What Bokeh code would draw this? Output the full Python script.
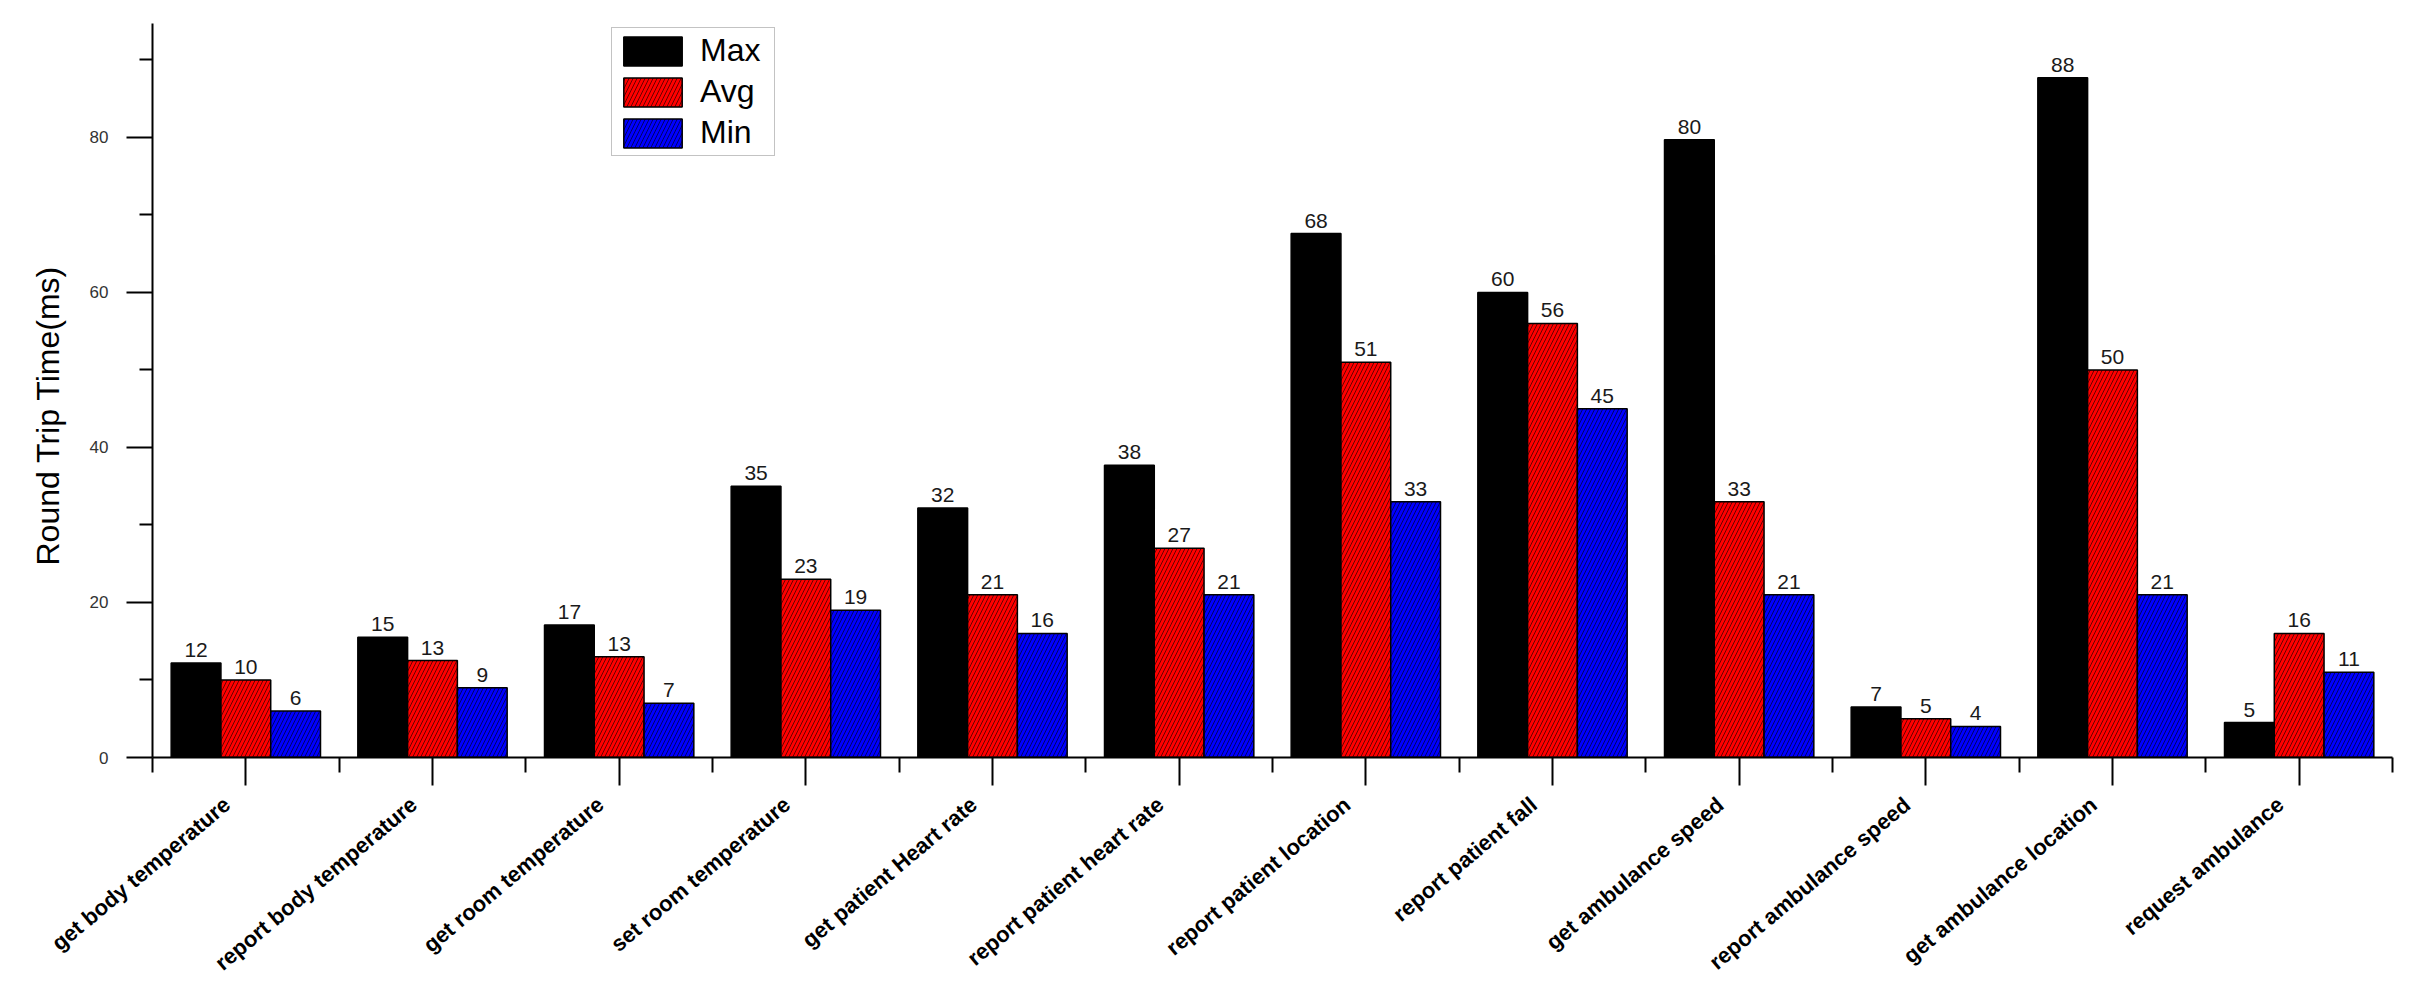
import numpy as np
from bokeh.plotting import figure
from bokeh.models import (ColumnDataSource, FixedTicker, Range1d, Legend, LegendItem,
                          Title, LinearAxis)
from bokeh.transform import dodge
from bokeh.core.properties import value
from bokeh.embed import file_html
from bokeh.resources import INLINE

categories = ["get body temperature", "report body temperature", "get room temperature",
              "set room temperature", "get patient Heart rate", "report patient heart rate",
              "report patient location", "report patient fall", "get ambulance speed",
              "report ambulance speed", "get ambulance location", "request ambulance"]
max_vals = [12.2, 15.5, 17.1, 35.0, 32.2, 37.7, 67.6, 60.0, 79.7, 6.5, 87.7, 4.5]
avg_vals = [10.0, 12.5, 13.0, 23.0, 21.0, 27.0, 51.0, 56.0, 33.0, 5.0, 50.0, 16.0]
min_vals = [6.0, 9.0, 7.0, 19.0, 16.0, 21.0, 33.0, 45.0, 21.0, 4.0, 21.0, 11.0]
max_labels = ["12", "15", "17", "35", "32", "38", "68", "60", "80", "7", "88", "5"]
avg_labels = ["10", "13", "13", "23", "21", "27", "51", "56", "33", "5", "50", "16"]
min_labels = ["6", "9", "7", "19", "16", "21", "33", "45", "21", "4", "21", "11"]
y_ticks = [0, 20, 40, 60, 80]
y_minor = [10, 30, 50, 70, 90]

idx = list(range(len(categories)))
src = ColumnDataSource(dict(x=idx, mx=max_vals, av=avg_vals, mn=min_vals,
                            mxl=max_labels, avl=avg_labels, mnl=min_labels))

FONT = "Liberation Sans"
LAB_SHIFT = 0.1
p = figure(frame_width=2240, frame_height=734, output_backend="svg", toolbar_location=None,
           x_range=Range1d(-0.5, 11.5), y_range=Range1d(0, 94.7),
           min_border_left=152, min_border_right=24, min_border_top=23, min_border_bottom=216)
p.extra_x_ranges = {"labels": Range1d(-0.5 + LAB_SHIFT, 11.5 + LAB_SHIFT)}
p.outline_line_color = None
p.xgrid.visible = False
p.ygrid.visible = False
p.background_fill_color = "white"

bw = 0.8 / 3
r_max = p.vbar(x=dodge("x", -bw, range=p.x_range), top="mx", width=bw, source=src,
               fill_color="black", line_color="black", line_width=1.5)
r_avg = p.vbar(x=dodge("x", 0, range=p.x_range), top="av", width=bw, source=src,
               fill_color="#ff0000", line_color="black", line_width=1.5,
               hatch_pattern="/", hatch_color="black", hatch_scale=8, hatch_weight=0.6)
r_min = p.vbar(x=dodge("x", bw, range=p.x_range), top="mn", width=bw, source=src,
               fill_color="#0000ff", line_color="black", line_width=1.5,
               hatch_pattern="/", hatch_color="black", hatch_scale=8, hatch_weight=0.6)

for off, ycol, tcol in [(-bw, "mx", "mxl"), (0, "av", "avl"), (bw, "mn", "mnl")]:
    p.text(x=dodge("x", off, range=p.x_range), y=ycol, text=tcol, source=src,
           text_align="center", text_baseline="bottom", y_offset=-6,
           text_font=value(FONT), text_font_size="21px", text_color="#1a1a1a")

# y axis
ya = p.yaxis[0]
ya.ticker = FixedTicker(ticks=y_ticks, minor_ticks=y_minor)
ya.axis_line_width = 2
ya.major_tick_line_width = 2
ya.minor_tick_line_width = 2
ya.major_tick_out = 26
ya.major_tick_in = 0
ya.minor_tick_out = 13
ya.minor_tick_in = 0
ya.major_label_standoff = 18
ya.major_label_text_font = FONT
ya.major_label_text_font_size = "17px"
ya.major_label_text_color = "#333333"

ytitle = Title(text="Round Trip Time(ms)", align="left", offset=192, standoff=42,
               text_font=FONT, text_font_size="32px", text_font_style="normal",
               text_color="black")
p.add_layout(ytitle, "left")

# x axis: tick marks
xa = p.xaxis[0]
xa.ticker = FixedTicker(ticks=idx, minor_ticks=[i - 0.5 for i in range(len(categories) + 1)])
xa.major_label_overrides = {i: "" for i in idx}
xa.major_label_standoff = 0
xa.major_label_text_font_size = "0px"
xa.axis_line_width = 2
xa.major_tick_line_width = 2
xa.minor_tick_line_width = 2
xa.major_tick_out = 28
xa.major_tick_in = 0
xa.minor_tick_out = 15
xa.minor_tick_in = 0

# x axis: category labels
xl = LinearAxis(x_range_name="labels", ticker=FixedTicker(ticks=idx, minor_ticks=[]))
xl.major_label_overrides = {i: c for i, c in zip(idx, categories)}
xl.major_label_orientation = np.deg2rad(40)
xl.axis_line_color = None
xl.major_tick_line_color = None
xl.minor_tick_line_color = None
xl.major_tick_out = 0
xl.major_tick_in = 0
xl.major_label_standoff = 16
xl.major_label_text_font = FONT
xl.major_label_text_font_size = "22px"
xl.major_label_text_font_style = "bold"
xl.major_label_text_color = "black"
p.add_layout(xl, "below")

legend = Legend(items=[LegendItem(label="Max", renderers=[r_max]),
                       LegendItem(label="Avg", renderers=[r_avg]),
                       LegendItem(label="Min", renderers=[r_min])],
                location=(459, 601), orientation="vertical")
legend.glyph_width = 73
legend.glyph_height = 36
legend.label_height = 36
legend.label_width = 70
legend.label_standoff = 11
legend.spacing = 4
legend.padding = 4
legend.margin = 0
legend.label_text_font = FONT
legend.label_text_font_size = "32px"
legend.label_text_color = "black"
legend.border_line_color = "#888888"
legend.border_line_width = 1.5
legend.background_fill_color = "white"
legend.background_fill_alpha = 1
p.add_layout(legend, "center")

open("out.html", "w").write(file_html(p, INLINE))
